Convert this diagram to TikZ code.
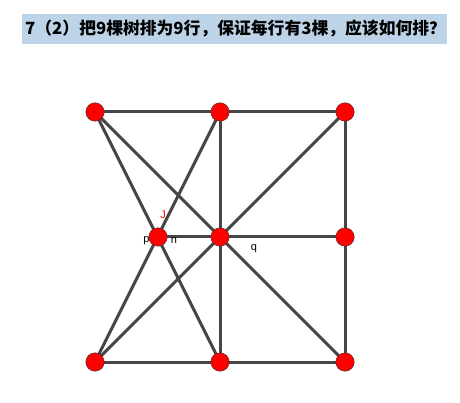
\documentclass[tikz,border=0pt]{standalone}
\usepackage{fontspec}
\usepackage{xcolor}
\usepackage{tikz}
\usetikzlibrary{backgrounds}
\setmainfont{Liberation Sans}
\newfontfamily\cjk{Noto Sans CJK SC}
\definecolor{band}{RGB}{189,212,232}
\definecolor{edge}{RGB}{70,70,70}

\begin{document}
\begin{tikzpicture}[
  x=1pt,y=-1pt,
  %--- node styles ---
  tree/.style   ={circle,draw=black!80,thin,fill=red,inner sep=0pt,minimum size=18.5pt},
  lbl/.style    ={font=\fontsize{11}{13}\selectfont,text=black,inner sep=0pt},
  titlebox/.style={fill=band,text=black,anchor=west,minimum width=425pt,
                  minimum height=30pt,text width=419pt,inner xsep=3pt,align=left,
                  font=\cjk\bfseries\fontsize{16.8}{20}\selectfont},
  %--- line styles ---
  row/.style    ={line width=3pt,draw=edge},
]
\useasboundingbox (0,0) rectangle (460,403);

%==================== title ====================
\node[titlebox] (title) at (22,29) {7（2）把9棵树排为9行，保证每行有3棵，应该如何排？};

%==================== trees ====================
\node[tree] (tl) at ( 95,112) {};
\node[tree] (tm) at (220,112) {};
\node[tree] (tr) at (345,112) {};
\node[tree] (p)  at (158,237) {};
\node[tree] (c)  at (220,237) {};
\node[tree] (mr) at (345,237) {};
\node[tree] (bl) at ( 95,362) {};
\node[tree] (bm) at (220,362) {};
\node[tree] (br) at (345,362) {};

%==================== labels ====================
\node[lbl] (lp) at (146.5,241) {p};
\node[lbl] (ln) at (174,241) {n};
\node[lbl] (lq) at (254,249) {q};
\node[lbl,text=red] (lj) at (163,215) {J};

%==================== the nine rows ====================
\begin{scope}[on background layer]
\draw[row] (tl.center) -- (tr.center);
\draw[row] (bl.center) -- (br.center);
\draw[row] (tr.center) -- (br.center);
\draw[row] (tm.center) -- (bm.center);
\draw[row] (p.center)  -- (mr.center);
\draw[row] (tl.center) -- (br.center);
\draw[row] (tr.center) -- (bl.center);
\draw[row] (tl.center) -- (bm.center);
\draw[row] (tm.center) -- (bl.center);
\end{scope}

\end{tikzpicture}
\end{document}
